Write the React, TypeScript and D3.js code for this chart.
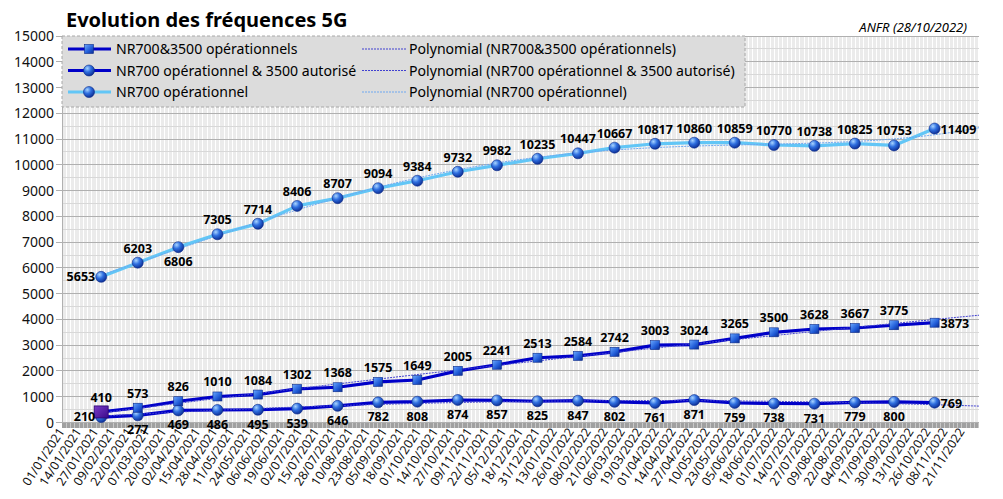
import React from "react";
import * as d3 from "d3";

const dates = [
  "2021-01-31", "2021-02-28", "2021-03-31", "2021-04-30", "2021-05-31", "2021-06-30",
  "2021-07-31", "2021-08-31", "2021-09-30", "2021-10-31", "2021-11-30", "2021-12-31",
  "2022-01-31", "2022-02-28", "2022-03-31", "2022-04-30", "2022-05-31", "2022-06-30",
  "2022-07-31", "2022-08-31", "2022-09-30", "2022-10-31",
];
const nr700and3500 = [410, 573, 826, 1010, 1084, 1302, 1368, 1575, 1649, 2005, 2241, 2513, 2584, 2742, 3003, 3024, 3265, 3500, 3628, 3667, 3775, 3873];
const nr700op3500aut = [210, 277, 469, 486, 495, 539, 646, 782, 808, 874, 857, 825, 847, 802, 761, 871, 759, 738, 731, 779, 800, 769];
const nr700op = [5653, 6203, 6806, 7305, 7714, 8406, 8707, 9094, 9384, 9732, 9982, 10235, 10447, 10667, 10817, 10860, 10859, 10770, 10738, 10825, 10753, 11409];
const seriesNames = ["NR700&3500 opérationnels", "NR700 opérationnel & 3500 autorisé", "NR700 opérationnel"];
const trendDegrees = [2, 2, 4];
const yTicks = [0, 1000, 2000, 3000, 4000, 5000, 6000, 7000, 8000, 9000, 10000, 11000, 12000, 13000, 14000, 15000];
const title = "Evolution des fréquences 5G";
const source = "ANFR (28/10/2022)";

const W = 1003, H = 499;
const L = 62, R = 979, T = 36, B = 422.5;
const FONT = "'Noto Sans', sans-serif";

const parse = d3.utcParse("%Y-%m-%d");
const fmt = d3.utcFormat("%d/%m/%Y");
const xStart = new Date(Date.UTC(2021, 0, 1));
const xEnd = new Date(Date.UTC(2022, 11, 4));
const x = d3.scaleUtc().domain([xStart, xEnd]).range([L, R]);
const y = d3.scaleLinear().domain([0, 15000]).range([B, T]);
const dd = dates.map((s) => parse(s) as Date);

function polyFit(xs: number[], ys: number[], deg: number) {
  const n = deg + 1;
  const A: number[][] = Array.from({ length: n }, () => new Array(n + 1).fill(0));
  for (let i = 0; i < xs.length; i++) {
    for (let r = 0; r < n; r++) {
      for (let c = 0; c < n; c++) A[r][c] += Math.pow(xs[i], r + c);
      A[r][n] += ys[i] * Math.pow(xs[i], r);
    }
  }
  for (let i = 0; i < n; i++) {
    let p = i;
    for (let k = i + 1; k < n; k++) if (Math.abs(A[k][i]) > Math.abs(A[p][i])) p = k;
    [A[i], A[p]] = [A[p], A[i]];
    for (let k = i + 1; k < n; k++) {
      const f = A[k][i] / A[i][i];
      for (let c = i; c <= n; c++) A[k][c] -= f * A[i][c];
    }
  }
  const coef = new Array(n).fill(0);
  for (let i = n - 1; i >= 0; i--) {
    let s = A[i][n];
    for (let c = i + 1; c < n; c++) s -= A[i][c] * coef[c];
    coef[i] = s / A[i][i];
  }
  return (t: number) => coef.reduce((acc, cf, k) => acc + cf * Math.pow(t, k), 0);
}

const DAY = 86400000;
const t0 = dd[0].getTime();
const tn = (d: Date) => (d.getTime() - t0) / DAY / 300;

function trendPath(vals: number[], deg: number) {
  const f = polyFit(dd.map(tn), vals, deg);
  const pts: [number, number][] = [];
  const N = 120;
  for (let i = 0; i <= N; i++) {
    const tm = t0 + (xEnd.getTime() - t0) * (i / N);
    const d = new Date(tm);
    pts.push([x(d), y(f(tn(d)))]);
  }
  return d3.line()(pts) || "";
}

const DARK = "#0000c8";
const LIGHT = "#62c6f6";

const Sphere = ({ cx, cy, r = 5.5 }: { cx: number; cy: number; r?: number }) => (
  <circle cx={cx} cy={cy} r={r} fill="url(#sph)" stroke="#0a2a8a" strokeWidth={0.6} />
);
const Square = ({ cx, cy, s = 9 }: { cx: number; cy: number; s?: number }) => (
  <rect x={cx - s / 2} y={cy - s / 2} width={s} height={s} fill="url(#sq)" stroke="#0a2a8a" strokeWidth={0.6} />
);

type Place = "above" | "below" | "left" | "right";
function placeFor(series: number, i: number, n: number): Place {
  if (i === n - 1) return "right";
  if (series === 0) return "above";
  if (series === 1) return i === 0 ? "left" : "below";
  if (i === 0) return "left";
  if (i === 2) return "below";
  return "above";
}

function Label({ px, py, v, p }: { px: number; py: number; v: number; p: Place }) {
  let tx = px, ty = py, anchor: "middle" | "start" | "end" = "middle";
  if (p === "above") ty = py - 10;
  if (p === "below") ty = py + 19;
  if (p === "left") { tx = px - 6; ty = py + 4; anchor = "end"; }
  if (p === "right") { tx = px + 6; ty = py + 5; anchor = "start"; }
  return (
    <text x={tx} y={ty} textAnchor={anchor} fontFamily={FONT} fontWeight={700} fontSize={12.5} fill="#000">
      {v}
    </text>
  );
}

export default function App() {
  const days = d3.utcDay.range(xStart, xEnd);
  const majors = d3.utcDay.range(xStart, xEnd, 13);
  const minorY = d3.range(500, 15000, 1000);
  const line = d3.line<number>().x((_, i) => x(dd[i])).y((v) => y(v));
  const all = [nr700and3500, nr700op3500aut, nr700op];
  const trendColors = ["#4040d0", "#4040d0", "#6fa8f0"];

  return (
    <div style={{ position: "fixed", left: 0, top: 0, width: W, height: H, background: "#fff" }}>
      <svg width={W} height={H} style={{ display: "block" }}>
        <defs>
          <radialGradient id="sph" cx="35%" cy="30%" r="75%">
            <stop offset="0%" stopColor="#a8d4ff" />
            <stop offset="45%" stopColor="#2f6fe0" />
            <stop offset="100%" stopColor="#0b2a8f" />
          </radialGradient>
          <linearGradient id="sq" x1="0" y1="0" x2="1" y2="1">
            <stop offset="0%" stopColor="#6aa8ff" />
            <stop offset="60%" stopColor="#1f5ad6" />
            <stop offset="100%" stopColor="#0b2a8f" />
          </linearGradient>
          <linearGradient id="pur" x1="0" y1="0" x2="1" y2="1">
            <stop offset="0%" stopColor="#7a3cc8" />
            <stop offset="100%" stopColor="#3a0a8a" />
          </linearGradient>
        </defs>

        <rect x={L} y={T} width={R - L} height={B - T} fill="#fff" />
        <g shapeRendering="crispEdges">
          {days.map((d, i) => (
            <line key={i} x1={x(d)} x2={x(d)} y1={T} y2={B} stroke="#ebebeb" strokeWidth={1} />
          ))}
          {minorY.map((v) => (
            <line key={v} x1={L} x2={R} y1={y(v)} y2={y(v)} stroke="#d8d8d8" />
          ))}
          {yTicks.map((v) => (
            <line key={v} x1={L - 6} x2={R} y1={y(v)} y2={y(v)} stroke="#b0b0b0" />
          ))}
          <line x1={L} x2={L} y1={T} y2={B} stroke="#b0b0b0" />
          <rect x={L} y={B} width={R - L} height={5} fill="#c8c8c8" />
          {days.map((d, i) => (
            <line key={i} x1={x(d)} x2={x(d)} y1={B} y2={B + 5} stroke="#a0a0a0" strokeWidth={1} />
          ))}
        </g>

        {yTicks.map((v) => (
          <text key={v} x={54} y={y(v) + 5} textAnchor="end" fontFamily={FONT} fontSize={14} fill="#111">
            {v}
          </text>
        ))}
        {majors.map((d, i) => (
          <text
            key={i}
            transform={`translate(${x(d) + 3},${B + 9}) rotate(-57)`}
            textAnchor="end"
            fontFamily={FONT}
            fontSize={12.4}
            fill="#111"
          >
            {fmt(d)}
          </text>
        ))}

        <path d={line(nr700op) || ""} fill="none" stroke={LIGHT} strokeWidth={3.2} strokeLinejoin="round" />
        <path d={line(nr700and3500) || ""} fill="none" stroke={DARK} strokeWidth={3.2} strokeLinejoin="round" />
        <path d={line(nr700op3500aut) || ""} fill="none" stroke={DARK} strokeWidth={3.2} strokeLinejoin="round" />

        {all.map((vals, s) => (
          <path key={s} d={trendPath(vals, trendDegrees[s])} fill="none" stroke={trendColors[s]} strokeWidth={1} strokeDasharray="2,1" />
        ))}

        {nr700op.map((v, i) => <Sphere key={i} cx={x(dd[i])} cy={y(v)} />)}
        {nr700op3500aut.map((v, i) => <Sphere key={i} cx={x(dd[i])} cy={y(v)} />)}
        {nr700and3500.map((v, i) =>
          i === 0 ? (
            <rect key={i} x={x(dd[i]) - 7} y={y(v) - 6} width={14} height={12} fill="url(#pur)" stroke="#2a0070" strokeWidth={0.8} />
          ) : (
            <Square key={i} cx={x(dd[i])} cy={y(v)} />
          )
        )}

        {all.map((vals, s) =>
          vals.map((v, i) => (
            <Label key={`${s}-${i}`} px={x(dd[i])} py={y(v)} v={v} p={placeFor(s, i, vals.length)} />
          ))
        )}

        <rect x={L} y={T} width={745 - L} height={107 - T} fill="#dcdcdc" stroke="#a8a8a8" strokeDasharray="3,2" />
        {seriesNames.map((name, i) => {
          const ry = 49 + i * 21.5;
          return (
            <g key={i}>
              <line x1={68} x2={111} y1={ry} y2={ry} stroke={i === 2 ? LIGHT : DARK} strokeWidth={3.2} />
              {i === 0 ? <Square cx={89} cy={ry} /> : <Sphere cx={89} cy={ry} />}
              <text x={116} y={ry + 5} fontFamily={FONT} fontSize={14.1} fill="#000">{name}</text>
              <line x1={362} x2={406} y1={ry} y2={ry} stroke={trendColors[i]} strokeWidth={1} strokeDasharray="2,1" />
              <text x={409} y={ry + 5} fontFamily={FONT} fontSize={14.1} fill="#000">{`Polynomial (${name})`}</text>
            </g>
          );
        })}

        <text x={66} y={27} fontFamily={FONT} fontWeight={700} fontSize={20} fill="#000">{title}</text>
        <text x={967} y={32} textAnchor="end" fontFamily={FONT} fontStyle="italic" fontSize={13} fill="#000">{source}</text>
      </svg>
    </div>
  );
}
